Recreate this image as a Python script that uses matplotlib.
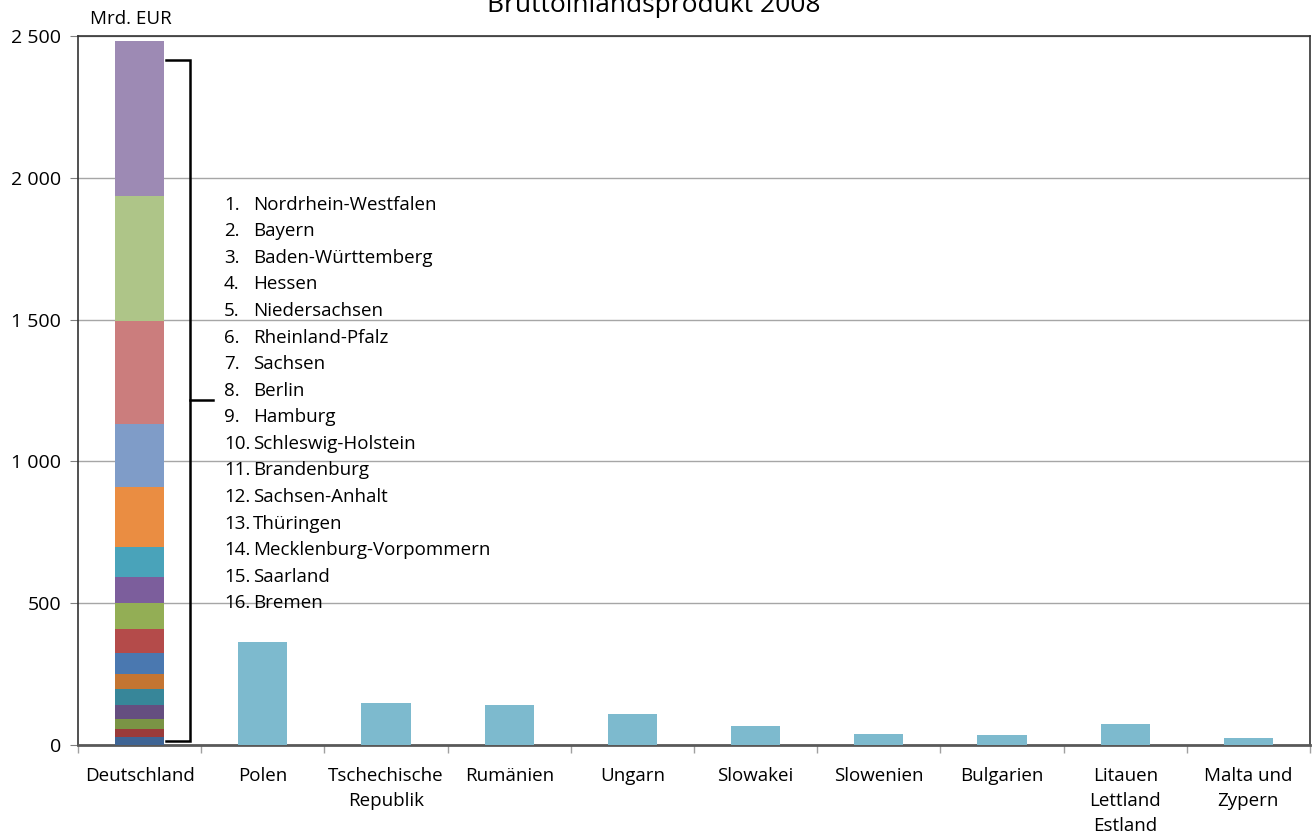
import numpy as np
import matplotlib.pyplot as plt

plt.rcParams['font.family'] = ['Open Sans', 'DejaVu Sans']

# Länder, Reihenfolge 1..16 (1 = oberstes Segment)
laender = ["Nordrhein-Westfalen", "Bayern", "Baden-Württemberg", "Hessen",
           "Niedersachsen", "Rheinland-Pfalz", "Sachsen", "Berlin", "Hamburg",
           "Schleswig-Holstein", "Brandenburg", "Sachsen-Anhalt", "Thüringen",
           "Mecklenburg-Vorpommern", "Saarland", "Bremen"]
# Segmentwerte von unten (Bremen) nach oben (NRW), Mrd. EUR
seg_werte = [28, 28, 36, 49, 56, 53, 74, 84, 92, 92, 105, 211, 223, 363, 443, 545]
seg_farben = ["#3E6494", "#9A3B3A", "#7A9445", "#654E80", "#378699", "#C47532",
              "#4A78B0", "#B44B4A", "#93AE55", "#7C5E9C", "#49A3BA", "#EA8D42",
              "#7F9CC8", "#CB7D7D", "#AEC588", "#9D8AB4"]

kategorien = ["Deutschland", "Polen", "Tschechische\nRepublik", "Rumänien", "Ungarn",
              "Slowakei", "Slowenien", "Bulgarien", "Litauen\nLettland\nEstland",
              "Malta und\nZypern"]
andere_werte = [363, 147, 140, 108, 66, 38, 34, 73, 24]

fig = plt.figure(figsize=(13.14, 8.39), dpi=100)
ax = fig.add_axes([78 / 1314, 94 / 839, 1232 / 1314, 709 / 839])

x = np.arange(len(kategorien))
breite = 0.4

# gestapelter Balken Deutschland
unten = 0
for w, c in zip(seg_werte, seg_farben):
    ax.bar(0, w, breite, bottom=unten, color=c, zorder=3)
    unten += w
gesamt = unten

ax.bar(x[1:], andere_werte, breite, color="#7DBACE", zorder=3)

ax.set_xlim(-0.5, len(kategorien) - 0.5)
ax.set_ylim(0, 2500)
ax.set_yticks([0, 500, 1000, 1500, 2000, 2500])
ax.set_yticklabels(["0", "500", "1 000", "1 500", "2 000", "2 500"], fontsize=14)
ax.yaxis.grid(True, color="#A6A6A6", lw=1, zorder=0)

ax.set_xticks(x)
ax.set_xticklabels(kategorien, fontsize=13.5, linespacing=1.5, va='top')
ax.set_xticks(np.arange(len(kategorien) + 1) - 0.5, minor=True)
ax.tick_params(axis='x', which='major', length=0, pad=16)
ax.tick_params(axis='x', which='minor', length=6, color="#A0A0A0", width=1)
ax.tick_params(axis='y', length=6, color="#808080", pad=6)

for s in ['left', 'top', 'right']:
    ax.spines[s].set_color("#333333")
    ax.spines[s].set_linewidth(1.2)
ax.spines['bottom'].set_color("#595959")
ax.spines['bottom'].set_linewidth(2)

# Klammer neben dem Balken
kx0, kx1, kx2 = 0.214, 0.409, 0.596
ky_oben, ky_unten, ky_mitte = gesamt - 67, 14, 1215
ax.plot([kx0, kx1, kx1, kx0], [ky_oben, ky_oben, ky_unten, ky_unten],
        color="black", lw=1.8, zorder=4, solid_joinstyle='miter')
ax.plot([kx1, kx2], [ky_mitte, ky_mitte], color="black", lw=1.8, zorder=4)

# Legendenliste
y0 = 1905
dy = 93.7
for i, name in enumerate(laender):
    yy = y0 - i * dy
    ax.text(0.685, yy, f"{i + 1}.", fontsize=13.5, va='center', ha='left', zorder=5)
    ax.text(0.92, yy, name, fontsize=13.5, va='center', ha='left', zorder=5)

fig.text(131 / 1314, 1 - 19 / 839, "Mrd. EUR", fontsize=13.5, ha='center', va='center')
fig.text(654 / 1314, 1 - 12 / 839, "Bruttoinlandsprodukt 2008", fontsize=19,
         ha='center', va='baseline')

fig.savefig("out.png", dpi=100)
